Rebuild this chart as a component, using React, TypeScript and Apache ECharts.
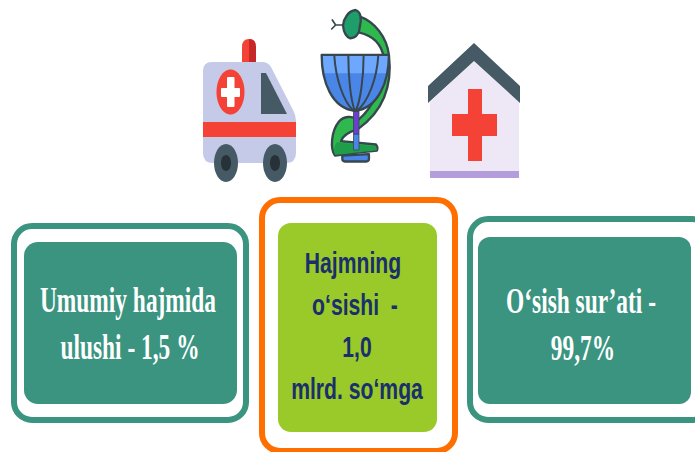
import React, { useEffect, useRef } from "react";
import * as echarts from "echarts";

const leftLines = ["Umumiy hajmida", "ulushi - 1,5 %"];
const centerLines = ["Hajmning", "o‘sishi  -", "1,0", "mlrd. so‘mga"];
const rightLines = ["O‘sish sur’ati -", "99,7%"];

const GREEN = "#3a9480";
const LIME = "#99ca2a";
const ORANGE = "#ff6f00";
const NAVY = "#1a2f6b";
const RED = "#f44336";
const SLATE = "#455a64";
const OUT = "#37474f";

const shapes: Record<string, string> = {
  ambBody:
    "M212 62 L262 62 Q268 62 271 67 L293 110 Q296 115 296 121 L296 153 Q296 163 286 163 L213 163 Q203 163 203 153 L203 71 Q203 62 212 62 Z",
  ambLight: "M242 62 L242 47 Q242 39 249 39 Q256 39 256 47 L256 62 Z",
  ambLightDark: "M249 62 L249 39 Q256 39 256 47 L256 62 Z",
  snake:
    "M135 35 C178 50 215 95 222 150 C232 235 210 315 130 372 C100 382 82 392 78 409 L183 419 Q190 428 186 437 C140 441 95 447 60 452 C45 432 48 380 72 350 C85 335 110 330 130 345 C178 305 205 235 207 160 C200 115 170 90 130 82 Z",
  snakeDark: "M60 450 C55 435 58 422 66 412 L183 424 L186 436 C140 441 95 447 60 450 Z",
  head: "M84 62 C86 40 100 18 122 15 C138 20 140 42 135 62 C134 82 125 100 106 100 C94 96 86 80 84 62 Z",
  tongue: "M84 60 L62 60 M62 60 L52 45 M62 60 L50 72",
  bowl: "M20 150 L222 150 C222 230 190 310 120 318 C50 310 20 230 20 150 Z",
  bowlTop: "M20 150 L222 150 C222 170 220 190 216 205 L26 205 C22 190 20 170 20 150 Z",
  ribs:
    "M58 152 C62 220 85 290 116 318 M100 152 C100 220 108 290 120 318 M146 152 C146 220 136 290 122 318 M190 152 C186 220 160 290 126 318",
  base: "M82 452 L162 448 L162 462 Q162 470 154 470 L90 470 Q82 470 82 462 Z",
  house: "M430 102 L474 61 L519 102 L519 178 L430 178 Z",
  roof: "M474 43 L520 86 L520 103 L474 61 L428 103 L428 86 Z",
};
Object.entries(shapes).forEach(([name, d]) => {
  echarts.graphic.registerShape(name, echarts.graphic.extendPath(d, {}));
});

const rrect = (x: number, y: number, w: number, h: number, r: number, fill: string, stroke?: string, lw = 0) => ({
  type: "rect",
  shape: { x, y, width: w, height: h, r },
  style: { fill, stroke: stroke ?? "none", lineWidth: lw },
  silent: true,
});
const ell = (cx: number, cy: number, rx: number, ry: number, fill: string) => ({
  type: "ellipse",
  shape: { cx, cy, rx, ry },
  style: { fill },
  silent: true,
});
const path = (name: string, fill: string, stroke = "none", lineWidth = 0) => ({
  type: name,
  style: { fill, stroke, lineWidth, lineJoin: "round", lineCap: "round" },
  silent: true,
});
const staff = (name: string, fill: string, stroke = "none", lineWidth = 0) => ({
  ...path(name, fill, stroke, lineWidth),
  x: 315,
  y: 5,
  scaleX: 1 / 3,
  scaleY: 1 / 3,
});
const label = (text: string, cx: number, cy: number, font: string, fill: string, scaleX: number) => ({
  type: "text",
  x: cx,
  y: cy,
  scaleX,
  silent: true,
  style: { text, x: 0, y: 0, font, fill, textAlign: "center", textVerticalAlign: "middle" },
});

const SERIF = 'bold 36px "Liberation Serif"';
const SANS = 'bold 29px "Liberation Sans"';

export default function App() {
  const ref = useRef<HTMLDivElement>(null);
  useEffect(() => {
    document.body.style.margin = "0";
    const chart = echarts.init(ref.current!, null, { renderer: "svg" });
    chart.setOption({
      animation: false,
      backgroundColor: "#ffffff",
      graphic: {
        elements: [
          // ambulance
          path("ambLight", "#f44336"),
          path("ambLightDark", "#c62828"),
          path("ambBody", "#c5cae9"),
          ell(230.5, 92, 14, 22.5, RED),
          rrect(227, 77, 7.5, 30, 1, "#ffffff"),
          rrect(221, 88, 19, 9, 1, "#ffffff"),
          { type: "polygon", shape: { points: [[261, 73], [266, 73], [287, 114], [261, 114]] }, style: { fill: SLATE }, silent: true },
          rrect(203, 122, 93, 15, 0, RED),
          ell(226, 163, 12, 19, SLATE),
          ell(275, 163, 12, 19, SLATE),
          ell(226, 163, 5, 8, "#263238"),
          ell(275, 163, 5, 8, "#263238"),
          // bowl of hygieia
          staff("base", "#4a86e8", OUT, 7),
          staff("snake", "#2fb84e", OUT, 7),
          staff("snakeDark", "#1f9e4a"),
          rrect(353.5, 134, 5.5, 16, 0, "#4a86e8", OUT, 0.8),
          rrect(353.5, 110, 5.5, 24, 0, "#6a3fd0", OUT, 0.8),
          staff("bowl", "#4a86e8"),
          staff("bowlTop", "#6ea8fe"),
          staff("ribs", "none", OUT, 6),
          staff("bowl", "none", OUT, 7),
          staff("tongue", "none", OUT, 5),
          staff("head", "#1e9e6a", OUT, 7),
          // hospital
          path("house", "#ede7f6"),
          rrect(430, 171, 89, 7, 0, "#b39ddb"),
          path("roof", SLATE),
          rrect(468, 89, 14, 72, 0, RED),
          rrect(452, 114, 45, 22, 0, RED),
          // left card
          rrect(14, 226, 232, 194, 18, "#ffffff", GREEN, 6),
          rrect(24, 242, 213, 162, 14, GREEN),
          ...leftLines.map((t, i) => label(t, i ? 130 : 128, 300 + i * 47, SERIF, "#ffffff", 0.65)),
          // center card
          rrect(262, 200, 193, 251, 18, "#ffffff", ORANGE, 6),
          rrect(278, 223, 159, 209, 13, LIME),
          ...centerLines.map((t, i) => label(t, 356 + (i === 0 ? -3 : i === 1 ? -1 : 1), 263 + i * 42, SANS, NAVY, 0.73)),
          // right card
          rrect(470, 219, 240, 201, 18, "#ffffff", GREEN, 6),
          rrect(478, 237, 213, 167, 12, GREEN),
          ...rightLines.map((t, i) => label(t, i ? 583 : 581, 301 + i * 47, SERIF, "#ffffff", 0.65)),
        ],
      },
    });
    return () => chart.dispose();
  }, []);
  return <div ref={ref} style={{ width: 695, height: 452 }} />;
}
